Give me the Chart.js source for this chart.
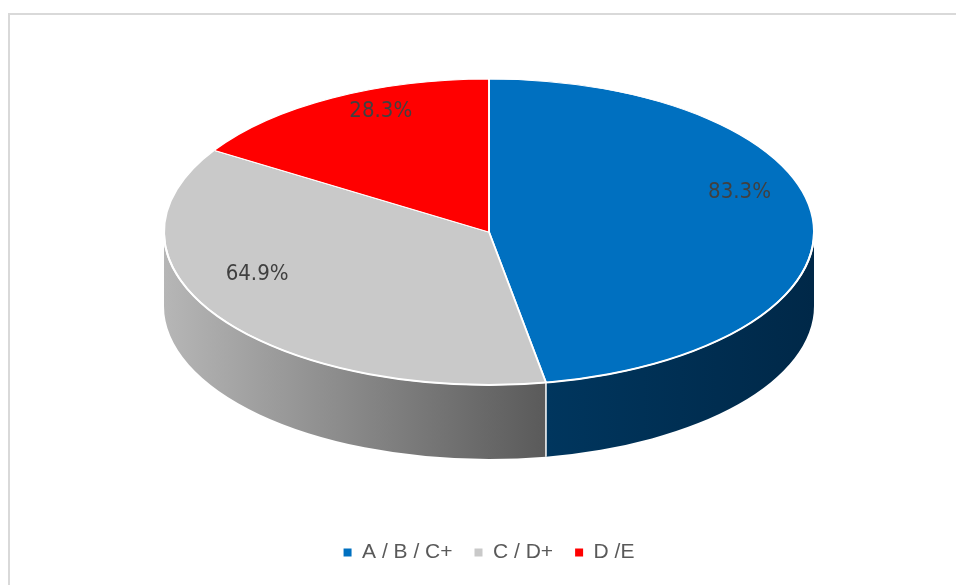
<!DOCTYPE html>
<html>
<head>
<meta charset="utf-8">
<script src="https://cdn.jsdelivr.net/npm/chart.js@4/dist/chart.umd.min.js"></script>
<style>
  html, body { margin: 0; padding: 0; background: #fff; overflow: hidden; }
  .frame { position: absolute; left: 8px; top: 13px; width: 1000px; height: 700px; border: 2px solid #d9d9d9; }
  #pie { position: absolute; left: 0; top: 0; }
</style>
</head>
<body>
<div class="frame"></div>
<canvas id="pie" width="956" height="585"></canvas>
<script>
const categories = ['A / B / C+', 'C / D+', 'D /E'];
const shares = [83.3, 64.9, 28.3];
const faceColors = ['#0070C0', '#C9C9C9', '#FF0000'];
// left / right colours of each slice's outer wall
const sideColors = [['#00365e', '#002848'], ['#b6b6b6', '#5a5a5a'], ['#b00000', '#800000']];

// fake 3d: flattens the pie into an ellipse and adds a wall under the front half
const pie3d = {
  id: 'pie3d',
  geometry(chart, opts) {
    const area = chart.chartArea;
    const arc0 = chart.getDatasetMeta(0).data[0];
    const rx = area.width / 2;
    const ry = rx * opts.tilt;
    return { cx: arc0.x, cy: area.top + ry, rx: rx, ry: ry, r: arc0.outerRadius, ox: arc0.x, oy: arc0.y };
  },
  beforeDatasetsDraw(chart, args, opts) {
    const ctx = chart.ctx;
    const g = this.geometry(chart, opts);
    const arcs = chart.getDatasetMeta(0).data;
    ctx.save();
    arcs.forEach((arc, i) => {
      [0, 2 * Math.PI].forEach(off => {
        const a = Math.max(arc.startAngle, off);
        const b = Math.min(arc.endAngle, off + Math.PI);
        if (b <= a) return;
        const xl = g.cx + g.rx * Math.cos(b);
        const xr = g.cx + g.rx * Math.cos(a);
        const grad = ctx.createLinearGradient(xl, 0, xr, 0);
        grad.addColorStop(0, sideColors[i][0]);
        grad.addColorStop(1, sideColors[i][1]);
        ctx.beginPath();
        ctx.ellipse(g.cx, g.cy, g.rx, g.ry, 0, a, b);
        ctx.ellipse(g.cx, g.cy + opts.depth, g.rx, g.ry, 0, b, a, true);
        ctx.closePath();
        ctx.fillStyle = grad;
        ctx.fill();
      });
    });
    // white seams between walls
    ctx.strokeStyle = '#ffffff';
    ctx.lineWidth = 1.5;
    arcs.forEach(arc => {
      const t = arc.startAngle;
      if (Math.sin(t) > 0.02) {
        const x = g.cx + g.rx * Math.cos(t);
        const y = g.cy + g.ry * Math.sin(t);
        ctx.beginPath();
        ctx.moveTo(x, y);
        ctx.lineTo(x, y + opts.depth);
        ctx.stroke();
      }
    });
    // squash the library's circle onto the top face
    ctx.translate(g.cx, g.cy);
    ctx.scale(g.rx / g.r, g.ry / g.r);
    ctx.translate(-g.ox, -g.oy);
  },
  afterDatasetsDraw(chart, args, opts) {
    const ctx = chart.ctx;
    ctx.restore();
    const g = this.geometry(chart, opts);
    ctx.save();
    ctx.strokeStyle = '#ffffff';
    ctx.lineWidth = 2;
    ctx.beginPath();
    ctx.ellipse(g.cx, g.cy, g.rx, g.ry, 0, 0, Math.PI);
    ctx.stroke();

    // value labels, placed with a little perspective
    const p = opts.perspective;
    const y0 = g.cy - g.ry + g.ry * (1 - p);
    const A = g.ry * (1 - p * p);
    const B = g.rx * Math.sqrt(1 - p * p);
    ctx.fillStyle = '#404040';
    ctx.font = '22px "Liberation Sans Narrow", "DejaVu Sans Condensed", sans-serif';
    ctx.textAlign = 'center';
    ctx.textBaseline = 'middle';
    chart.getDatasetMeta(0).data.forEach((arc, i) => {
      const mid = (arc.startAngle + arc.endAngle) / 2;
      const u = opts.labelRadius * Math.cos(mid);
      const v = opts.labelRadius * Math.sin(mid);
      const d = 1 - p * v;
      ctx.fillText(shares[i].toFixed(1) + '%', g.cx + B * u / d, y0 + A * v / d);
    });
    ctx.restore();
  }
};

new Chart(document.getElementById('pie'), {
  type: 'doughnut',
  data: {
    labels: categories,
    datasets: [{
      data: shares,
      backgroundColor: faceColors,
      borderColor: '#ffffff',
      borderWidth: 1.3,
      clip: false
    }]
  },
  plugins: [pie3d],
  options: {
    responsive: false,
    animation: false,
    events: [],
    cutout: 0,
    layout: { padding: { top: 79, left: 164, right: 142, bottom: 12 } },
    plugins: {
      tooltip: { enabled: false },
      pie3d: { tilt: 0.4708, depth: 74, perspective: 0.196, labelRadius: 0.8 },
      legend: {
        position: 'bottom',
        labels: {
          boxWidth: 8,
          boxHeight: 8,
          padding: 22,
          color: '#595959',
          font: { family: '"Liberation Sans", sans-serif', size: 21 },
          generateLabels: () => categories.map((c, i) => ({
            text: c,
            fillStyle: faceColors[i],
            strokeStyle: faceColors[i],
            lineWidth: 0,
            fontColor: '#595959',
            hidden: false,
            index: i
          }))
        }
      }
    }
  }
});
</script>
</body>
</html>
